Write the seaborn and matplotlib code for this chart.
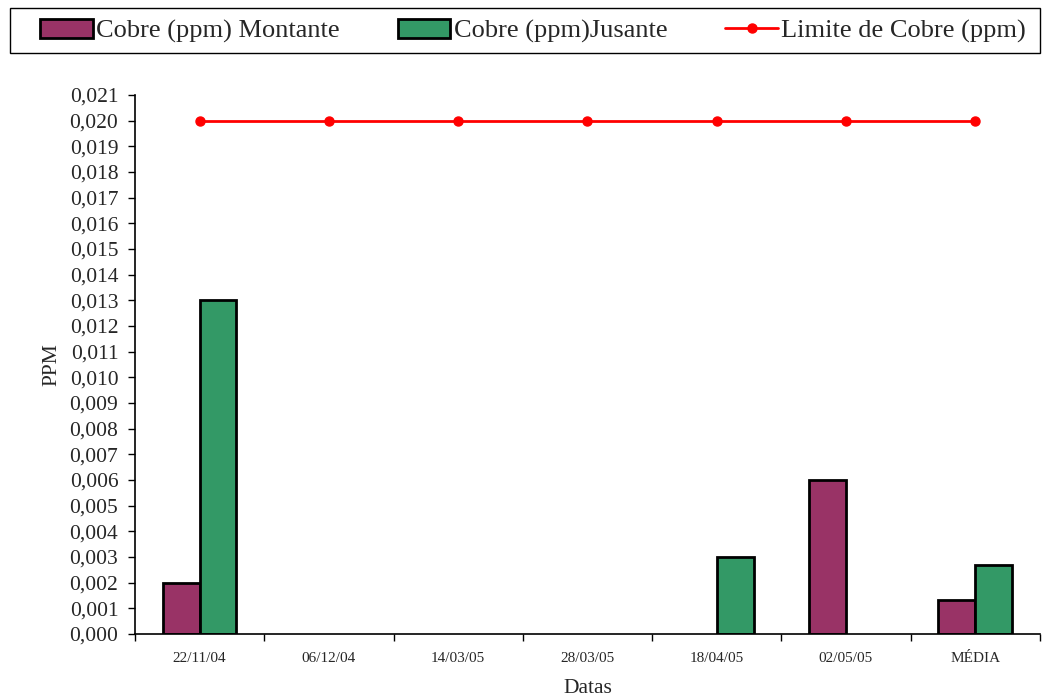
import matplotlib
matplotlib.use("Agg")
import matplotlib.pyplot as plt
import matplotlib.ticker as mticker
from matplotlib.patches import Patch, Rectangle
from matplotlib.lines import Line2D
import numpy as np
import pandas as pd
import seaborn as sns

# Sampling dates and copper concentrations (ppm)
datas = ["22/11/04", "06/12/04", "14/03/05", "28/03/05", "18/04/05", "02/05/05", "MÉDIA"]
montante = [0.002, np.nan, np.nan, np.nan, np.nan, 0.006, 0.00133]
jusante = [0.013, np.nan, np.nan, np.nan, 0.003, np.nan, 0.00267]
limite = [0.020, 0.020, 0.020, 0.020, 0.020, 0.020, 0.020]

serie_mont = "Cobre (ppm) Montante"
serie_jus = "Cobre (ppm)Jusante"
serie_lim = "Limite de Cobre (ppm)"

df = pd.DataFrame({
    "Datas": datas * 2,
    "PPM": montante + jusante,
    "Serie": [serie_mont] * len(datas) + [serie_jus] * len(datas),
})

sns.set_style("white")
plt.rcParams["font.family"] = ["Liberation Serif", "DejaVu Serif"]

W, H = 1043, 697
fig = plt.figure(figsize=(W / 100, H / 100), dpi=100)
ax = fig.add_axes([135 / W, 1 - 634 / H, 0.8676, (634 - 95) / H])

cores = {serie_mont: "#993366", serie_jus: "#339966"}
sns.barplot(data=df, x="Datas", y="PPM", hue="Serie", order=datas,
            hue_order=[serie_mont, serie_jus], palette=cores,
            width=0.57, edgecolor="black", linewidth=2, saturation=1,
            errorbar=None, legend=False, ax=ax)

x = np.arange(len(datas))
ax.plot(x, limite, color="#FF0000", linewidth=2, marker="o", markersize=6.5,
        label=serie_lim)

ax.set_xlim(-0.5, len(datas) - 0.5)
ax.set_ylim(0, 0.021)
ax.yaxis.set_major_locator(mticker.MultipleLocator(0.001))
ax.yaxis.set_major_formatter(mticker.FuncFormatter(
    lambda v, p: f"{v:.3f}".replace(".", ",")))

# category boundaries carry the tick marks, centres carry the labels
ax.set_xticks(np.arange(len(datas) + 1) - 0.5)
ax.set_xticklabels([])
ax.set_xticks(x, minor=True)
ax.set_xticklabels(datas, minor=True, fontsize=11)
ax.tick_params(axis="x", which="major", direction="out", length=5, width=1,
               color="black", bottom=True)
ax.tick_params(axis="x", which="minor", length=0, pad=13)
ax.tick_params(axis="y", direction="out", length=5, width=1, color="black",
               left=True, labelsize=15.5, pad=7)

for s in ["top", "right"]:
    ax.spines[s].set_visible(False)
for s in ["left", "bottom"]:
    ax.spines[s].set_color("black")
    ax.spines[s].set_linewidth(1.2)

ax.set_xlabel("Datas", fontsize=15.5, labelpad=10)
ax.set_ylabel("PPM", fontsize=15.5, labelpad=6)

handles = [
    Patch(facecolor="#993366", edgecolor="black", linewidth=2, label=serie_mont),
    Patch(facecolor="#339966", edgecolor="black", linewidth=2, label=serie_jus),
    Line2D([0], [0], color="#FF0000", linewidth=2, marker="o", markersize=6.5,
           label=serie_lim),
]
leg = fig.legend(handles=handles, loc="center left", ncol=3,
                 bbox_to_anchor=(40 / W, 1 - 31 / H), fontsize=19,
                 frameon=False, borderpad=0.0, borderaxespad=0.0,
                 handlelength=2.0, handletextpad=0.12, columnspacing=2.2)

# legend frame spanning the figure width
fig.patches.append(Rectangle((10 / W, 1 - 53 / H), 1030 / W, 45 / H,
                             transform=fig.transFigure, fill=False,
                             edgecolor="black", linewidth=1))

fig.savefig("out.png", dpi=100)
